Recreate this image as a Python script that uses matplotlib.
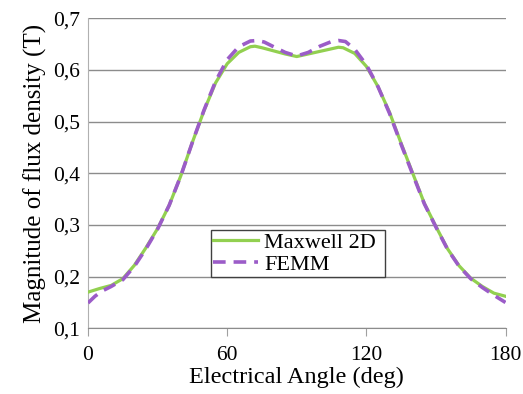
import matplotlib
matplotlib.use('Agg')
import matplotlib.pyplot as plt

# values
angle_maxwell = [0, 5, 10, 15, 20, 25, 30, 35, 40, 45, 50, 55, 60, 65, 70, 72, 75, 80, 85, 90,
                 95, 100, 105, 108, 110, 115, 120, 125, 130, 135, 140, 145, 150, 155, 160, 165,
                 170, 175, 180]
b_maxwell = [0.170, 0.177, 0.183, 0.196, 0.222, 0.256, 0.293, 0.338, 0.395, 0.460, 0.521,
             0.575, 0.612, 0.634, 0.645, 0.646, 0.643, 0.637, 0.631, 0.626, 0.631, 0.636,
             0.641, 0.644, 0.643, 0.632, 0.607, 0.568, 0.518, 0.458, 0.400, 0.342, 0.297,
             0.254, 0.221, 0.197, 0.181, 0.168, 0.162]

angle_femm = [0, 3, 6, 10, 15, 20, 25, 30, 35, 40, 45, 50, 55, 60, 65, 70, 73, 76, 80, 85, 90,
              95, 100, 105, 108, 111, 115, 120, 125, 130, 135, 140, 145, 150, 155, 160, 165,
              170, 175, 180]
b_femm = [0.149, 0.162, 0.172, 0.181, 0.194, 0.220, 0.254, 0.292, 0.338, 0.395, 0.460, 0.522,
          0.578, 0.620, 0.645, 0.656, 0.657, 0.654, 0.645, 0.634, 0.627, 0.634, 0.646, 0.655,
          0.657, 0.655, 0.640, 0.610, 0.568, 0.516, 0.456, 0.398, 0.341, 0.296, 0.253, 0.220,
          0.196, 0.179, 0.164, 0.150]

x_ticks = [0, 60, 120, 180]
y_ticks = [0.1, 0.2, 0.3, 0.4, 0.5, 0.6, 0.7]

plt.rcParams['font.family'] = ['Liberation Serif', 'DejaVu Serif']
serif = ['Liberation Serif', 'DejaVu Serif']

fig = plt.figure(figsize=(5.23, 3.94), dpi=100)
ax = fig.add_axes([88 / 523, 1 - 328.3 / 394, 417.5 / 523, 310 / 394])

ax.plot(angle_maxwell, b_maxwell, color='#92d050', lw=2.3, label='Maxwell 2D', zorder=3)
ax.plot(angle_femm, b_femm, color='#9b5cc8', lw=2.6, dashes=(3.5, 2.2), label='FEMM', zorder=4)

ax.set_xlim(0, 180)
ax.set_ylim(0.1, 0.7)
ax.set_xticks(x_ticks)
ax.set_xticklabels([str(v) for v in x_ticks], family=serif)
ax.set_yticks(y_ticks)
ax.set_yticklabels([f'{v:.1f}'.replace('.', ',') for v in y_ticks], family=serif)
ax.tick_params(labelsize=15.5, colors='black', length=0, pad=6)
ax.tick_params(axis='x', length=6, color='#a0a0a0', direction='out', pad=7)

ax.grid(axis='y', color='#8c8c8c', lw=1)
ax.set_axisbelow(True)
for side in ['top', 'right']:
    ax.spines[side].set_visible(False)
ax.spines['left'].set_color('#b0b0b0')
ax.spines['bottom'].set_color('#8c8c8c')

ax.set_xlabel('Electrical Angle (deg)', fontsize=17.5, labelpad=1, family=serif)
ax.set_ylabel('Magnitude of flux density (T)', fontsize=18, labelpad=4, family=serif)

leg = ax.legend(loc='lower left', bbox_to_anchor=((211 - 88) / 417.5, (328.3 - 277) / 310,
                                                  (385 - 211) / 417.5, 52 / 310),
                mode='expand', prop={'family': serif, 'size': 16}, frameon=True, fancybox=False,
                borderpad=0.1, labelspacing=0.05, handlelength=2.0, handletextpad=0.3,
                borderaxespad=0)
leg.get_frame().set_edgecolor('#404040')
leg.get_frame().set_linewidth(1)
leg.get_frame().set_alpha(1)

fig.savefig('out.png', dpi=100)
